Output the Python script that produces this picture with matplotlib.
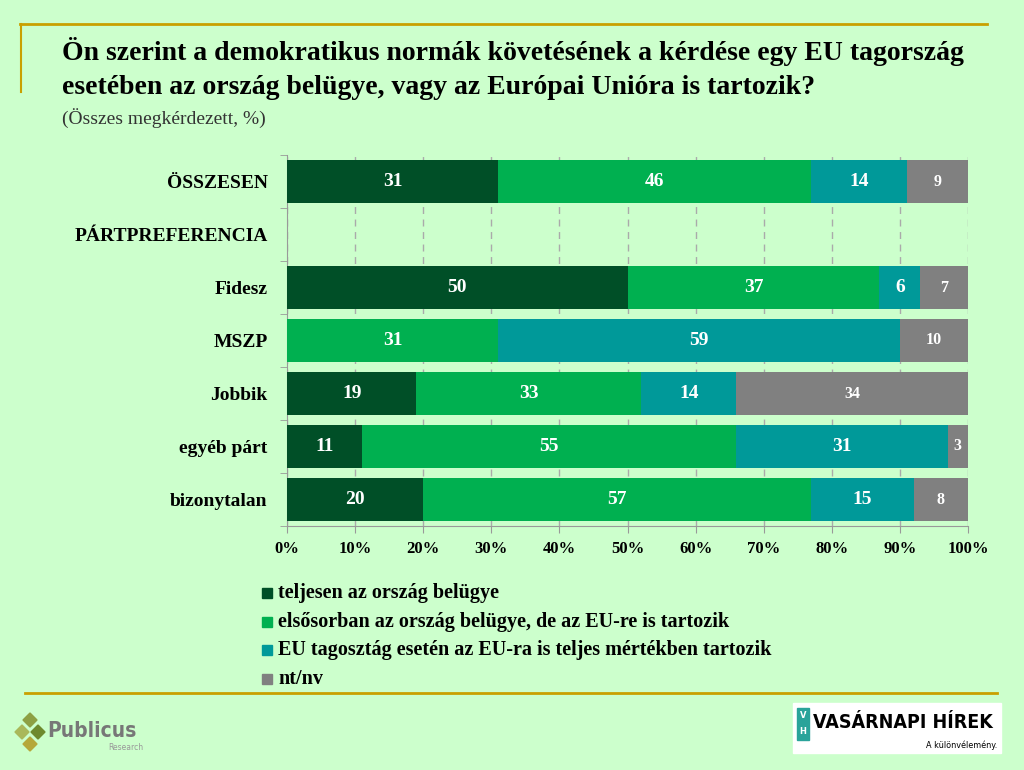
import matplotlib.pyplot as plt
from matplotlib.patches import Rectangle, Polygon
from matplotlib.lines import Line2D
import numpy as np

categories = ["ÖSSZESEN", "PÁRTPREFERENCIA", "Fidesz", "MSZP", "Jobbik", "egyéb párt", "bizonytalan"]
teljesen = [31, 0, 50, 0, 19, 11, 20]
elsosorban = [46, 0, 37, 31, 33, 55, 57]
eu_teljes = [14, 0, 6, 59, 14, 31, 15]
ntnv = [9, 0, 7, 10, 34, 3, 8]
series_names = ["teljesen az ország belügye",
                "elsősorban az ország belügye, de az EU-re is tartozik",
                "EU tagosztág esetén az EU-ra is teljes mértékben tartozik",
                "nt/nv"]
colors = ["#004F27", "#00B050", "#009999", "#808080"]
xticks = np.arange(0, 101, 10)

bg = "#CCFFCC"
gold = "#C9A000"
serif = ["Liberation Serif", "DejaVu Serif"]

fig = plt.figure(figsize=(10.24, 7.7), dpi=100)
fig.patch.set_facecolor(bg)

# title frame lines
fig.add_artist(Line2D([20/1024, 987/1024], [1-24/770, 1-24/770], color=gold, lw=2))
fig.add_artist(Line2D([21/1024, 21/1024], [1-24/770, 1-92/770], color=gold, lw=1.5))
fig.add_artist(Line2D([25/1024, 997/1024], [1-693/770, 1-693/770], color=gold, lw=2))

fig.text(62/1024, 1-52/770, "Ön szerint a demokratikus normák követésének a kérdése egy EU tagország",
         family=serif, weight="bold", size=20, va="center", ha="left")
fig.text(62/1024, 1-88/770, "esetében az ország belügye, vagy az Európai Unióra is tartozik?",
         family=serif, weight="bold", size=20, va="center", ha="left")
fig.text(62/1024, 1-118/770, "(Összes megkérdezett, %)", family=serif, size=14,
         va="center", ha="left", color="#333333")

ax = fig.add_axes([287/1024, 1-526/770, 681/1024, 371/770])
ax.set_facecolor(bg)
y = np.arange(len(categories))
series = [teljesen, elsosorban, eu_teljes, ntnv]
left = np.zeros(len(categories))
for k, (vals, c) in enumerate(zip(series, colors)):
    vals = np.array(vals, dtype=float)
    ax.barh(y, vals, left=left, height=0.83, color=c, zorder=3)
    for i, v in enumerate(vals):
        if v > 0:
            ax.text(left[i] + v / 2, y[i], f"{int(v)}", ha="center", va="center",
                    color="white", family=serif, weight="bold",
                    size=11.5 if k == 3 else 14, zorder=4)
    left += vals

ax.set_xlim(0, 100)
ax.set_ylim(len(categories) - 0.5, -0.5)
ax.set_xticks(xticks)
ax.set_xticklabels([f"{t}%" for t in xticks], family=serif, weight="bold", size=12)
ax.set_yticks(y)
ax.set_yticklabels(categories, family=serif, weight="bold", size=14)
ax.set_yticks(np.arange(-0.5, len(categories)), minor=True)
ax.tick_params(axis="y", which="major", length=0, pad=14)
ax.tick_params(axis="y", which="minor", length=5, color="#999999", direction="out")
ax.tick_params(axis="x", length=5, color="#999999", direction="out", pad=6)
ax.grid(axis="x", color="#AAAAAA", linestyle=(0, (5, 4)), lw=1, zorder=0)
for s in ["top", "right"]:
    ax.spines[s].set_visible(False)
for s in ["left", "bottom"]:
    ax.spines[s].set_color("#999999")

# legend
for j, (name, c) in enumerate(zip(series_names, colors)):
    yy = 1 - (593 + j * 28.5) / 770
    fig.add_artist(Rectangle((262/1024, yy - 5/770), 10/1024, 10/770, color=c,
                             transform=fig.transFigure))
    fig.text(278/1024, yy, name, family=serif, weight="bold", size=14.5, va="center")

# Publicus logo
for cx, cy, col in [(30, 720, "#8DA043"), (22, 732, "#A9B85A"), (38, 732, "#6E8A2E"), (30, 744, "#B5A83A")]:
    w, h = 7, 7
    fig.add_artist(Polygon([((cx - w)/1024, 1-cy/770), (cx/1024, 1-(cy - h)/770),
                            ((cx + w)/1024, 1-cy/770), (cx/1024, 1-(cy + h)/770)],
                           closed=True, color=col, transform=fig.transFigure))
fig.text(47/1024, 1-731/770, "Publicus", family="DejaVu Sans", stretch="condensed",
         weight="bold", size=15, color="#777777", va="center")
fig.text(143/1024, 1-748/770, "Research", family="DejaVu Sans", size=5.5, color="#999999",
         ha="right", va="center")

# Vasarnapi Hirek logo
fig.add_artist(Rectangle((793/1024, 1-753/770), 208/1024, 50/770, color="white",
                         transform=fig.transFigure))
fig.add_artist(Rectangle((797/1024, 1-740/770), 12/1024, 32/770, color="#2AA39A",
                         transform=fig.transFigure))
fig.text(803/1024, 1-716/770, "V", color="white", size=6, ha="center", va="center", weight="bold")
fig.text(803/1024, 1-732/770, "H", color="white", size=6, ha="center", va="center", weight="bold")
fig.text(813/1024, 1-722/770, "VASÁRNAPI HÍREK", family="DejaVu Sans", stretch="condensed",
         weight="bold", size=14, color="black", va="center", ha="left")
fig.text(997/1024, 1-745/770, "A különvélemény.", family="DejaVu Sans", stretch="condensed",
         size=6.5, color="black", va="center", ha="right")

fig.savefig("out.png", dpi=100, facecolor=bg)
